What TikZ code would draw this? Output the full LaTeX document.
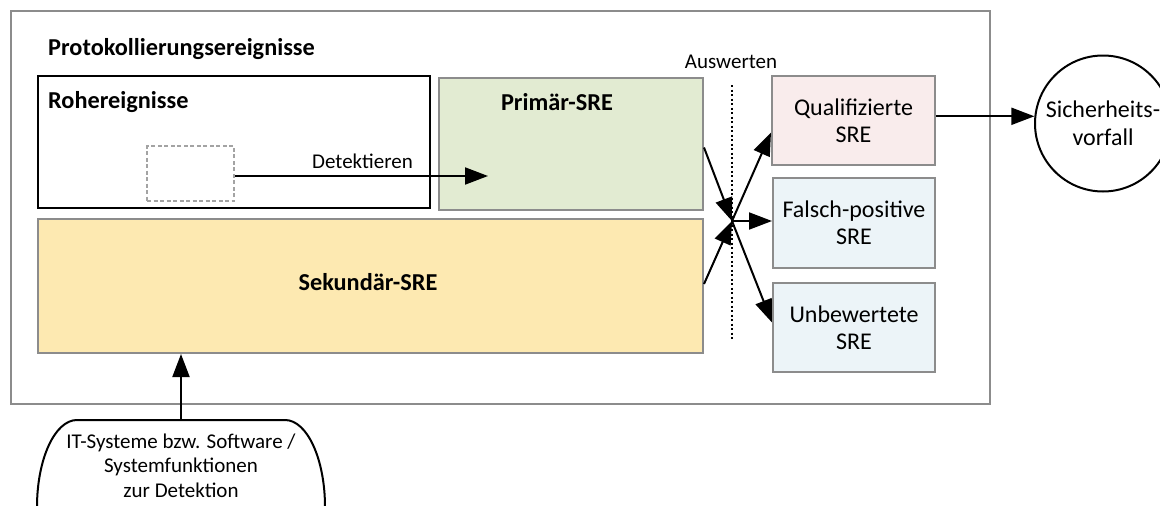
\documentclass[tikz,border=0pt]{standalone}
\usepackage{fontspec}
\setmainfont{Carlito}
\usetikzlibrary{arrows.meta,calc}
\definecolor{framegray}{RGB}{140,140,140}
\definecolor{primfill}{RGB}{226,235,210}
\definecolor{sekfill}{RGB}{253,233,177}
\definecolor{qualfill}{RGB}{249,236,236}
\definecolor{evalfill}{RGB}{236,244,248}

\begin{document}
\begin{tikzpicture}[x=1pt,y=-1pt,
  box/.style={draw=framegray, line width=2pt, inner sep=0pt, anchor=north west},
  evalbox/.style={draw=framegray, line width=2pt, inner sep=0pt, align=center,
    font=\fontsize{24}{27}\selectfont},
  headtext/.style={inner sep=0pt, anchor=base west, font=\fontsize{24.3}{27}\selectfont\bfseries},
  smalltext/.style={inner sep=0pt, font=\fontsize{21}{24.5}\selectfont},
  arr/.style={line width=2pt, -{Triangle[length=23pt,width=17pt]}}
]
\useasboundingbox (0,0) rectangle (1160,506);

% frame and event boxes
\node[box, minimum width=979pt, minimum height=393pt] (outer) at (10,10) {};
\node[box, draw=black, minimum width=392pt, minimum height=132pt] (roh) at (37,75) {};
\node[box, fill=primfill, minimum width=264pt, minimum height=132pt] (prim) at (438,77) {};
\node[box, fill=sekfill, minimum width=665pt, minimum height=134pt] (sek) at (37,218) {};
\node[box, draw=framegray!80, line width=2.2pt, dash pattern=on 4pt off 2.5pt,
  minimum width=87pt, minimum height=55pt] (raw) at (146,145) {};

\node[headtext] (tprot) at (48,55) {Protokollierungsereignisse};
\node[headtext] (troh) at (48,108) {Rohereignisse};
\node[headtext, anchor=base] (tprim) at (557,110) {Primär-SRE};
\node[headtext, anchor=base] (tsek) at (368,290) {Sekundär-SRE};
\node[smalltext, anchor=base west] (tdet) at (312,168) {Detektieren};
\node[smalltext, anchor=base] (taus) at (731,68) {Auswerten};

% evaluation results
\node[evalbox, fill=qualfill, minimum width=163pt, minimum height=89pt] (qual) at (853.5,120.5)
  {Qualifizierte\\SRE};
\node[evalbox, fill=evalfill, minimum width=162pt, minimum height=90pt] (fals) at (854,223)
  {Falsch-positive\\SRE};
\node[evalbox, fill=evalfill, minimum width=162pt, minimum height=89pt] (unb) at (854,327.5)
  {Unbewertete\\SRE};

% incident
\node[draw=black, line width=2pt, circle, minimum size=136pt, inner sep=0pt, align=center,
  font=\fontsize{24}{28}\selectfont] (circ) at (1103,123.5) {Sicherheits-\\vorfall};

% evaluation line
\coordinate (evtop) at (732,85);
\coordinate (evbot) at (732,341);
\draw[line width=1.6pt, dash pattern=on 2pt off 2.5pt] (evtop) -- (evbot);

% detection arrow
\coordinate (dettip) at (488,176);
\draw[arr] (raw.east |- dettip) -- (dettip);

% crossing of the evaluation arrows
\coordinate (cross) at (732,221);
\draw[arr] ([yshift=-3.5pt]prim.east) -- (cross);
\draw[arr] ([yshift=2pt]sek.east) -- (cross);
\draw[arr] (cross) -- ([yshift=-12pt]qual.west);
\draw[arr] (cross) -- (fals.west |- cross);
\draw[arr] (cross) -- ([yshift=5pt]unb.west);

\draw[arr] (qual.east |- circ.174) -- (circ.174);

% detection systems (terminator shape running off the bottom edge)
\begin{scope}
\clip (0,0) rectangle (1160,506);
\draw[line width=2pt] (37,560) -- (37,507)
  arc[start angle=180, end angle=270, x radius=40, y radius=87]
  -- (285,420)
  arc[start angle=270, end angle=360, x radius=40, y radius=87]
  -- (325,560);
\end{scope}
\node[smalltext, align=center, anchor=base] (its) at (181,497)
  {IT-Systeme bzw. Software /\\Systemfunktionen\\zur Detektion};
\coordinate (itstop) at (181,420);
\draw[arr] (itstop) -- (itstop |- sek.south);
\end{tikzpicture}
\end{document}
